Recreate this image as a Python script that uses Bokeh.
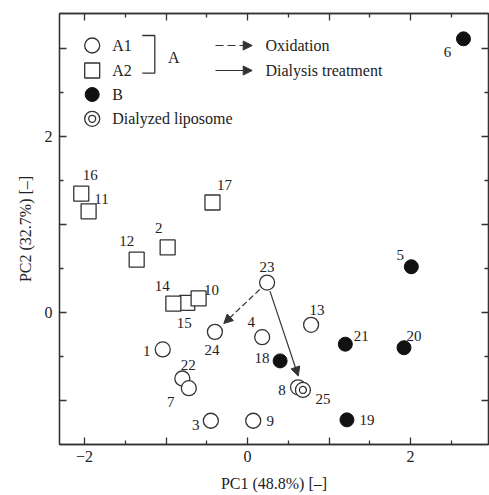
import math
from bokeh.plotting import figure
from bokeh.models import ColumnDataSource, LinearAxis, FixedTicker, Arrow, NormalHead, Label
from bokeh.core.properties import value
from bokeh.embed import file_html
from bokeh.resources import INLINE

# ---------------- data ----------------
a1_ids = ["1", "3", "4", "22", "7", "8", "9", "13", "23", "24"]
a1_x = [-1.04, -0.45, 0.18, -0.80, -0.72, 0.62, 0.07, 0.78, 0.24, -0.40]
a1_y = [-0.42, -1.23, -0.28, -0.75, -0.86, -0.85, -1.23, -0.14, 0.34, -0.22]

a2_ids = ["15", "2", "10", "11", "12", "14", "16", "17"]
a2_x = [-0.74, -0.98, -0.60, -1.95, -1.36, -0.91, -2.04, -0.43]
a2_y = [0.11, 0.74, 0.16, 1.15, 0.60, 0.10, 1.35, 1.25]

b_ids = ["5", "6", "18", "19", "20", "21"]
b_x = [2.01, 2.65, 0.40, 1.22, 1.92, 1.20]
b_y = [0.52, 3.11, -0.55, -1.22, -0.40, -0.36]

d_ids = ["25"]
d_x = [0.68]
d_y = [-0.88]

x_tick_labels = {-2: "\u22122", -1: "", 0: "0", 1: "", 2: "2"}
y_tick_labels = {-1: "", 0: "0", 1: "", 2: "2", 3: ""}

x_title = "PC1 (48.8%) [\u2013]"
y_title = "PC2 (32.7%) [\u2013]"

# label offsets in screen pixels (dx right, dy down)
label_offsets = {
    "16": (9, -19), "11": (13, -12), "17": (12, -18), "2": (-9, -19),
    "12": (-10, -19), "14": (-11, -18), "15": (-3, 20), "10": (13, -8),
    "23": (0, -16), "24": (-3, 18), "4": (-11, -15), "13": (6, -15),
    "1": (-16, 2), "22": (6, -14), "7": (-18, 14), "3": (-15, 4),
    "9": (17, 0), "8": (-16, 3), "25": (20, 9), "18": (-18, -3),
    "21": (16, -8), "20": (10, -12), "19": (20, 0), "5": (-11, -12),
    "6": (-16, 13),
}

# ---------------- figure ----------------
X0, X1 = -2.307, 2.957
Y0, Y1 = -1.5, 3.398
FL, FR, FT, FB = 59, 488, 13, 444

def px2x(px):
    return X0 + (px - FL) / (FR - FL) * (X1 - X0)

def px2y(py):
    return Y1 - (py - FT) / (FB - FT) * (Y1 - Y0)

FONT = "Liberation Serif"
TXT = "#222222"
LINE = "#333333"

p = figure(width=489, height=495, x_range=(X0, X1), y_range=(Y0, Y1),
           output_backend="svg", toolbar_location=None,
           min_border_left=FL, min_border_right=489 - FR,
           min_border_top=FT, min_border_bottom=495 - FB)
p.grid.visible = False
p.outline_line_color = LINE
p.outline_line_width = 1.3

xt = FixedTicker(ticks=[-2, -1, 0, 1, 2], minor_ticks=[-1.5, -0.5, 0.5, 1.5, 2.5])
yt = FixedTicker(ticks=[-1, 0, 1, 2, 3], minor_ticks=[-0.5, 0.5, 1.5, 2.5])

def style(ax):
    ax.axis_line_color = LINE
    ax.axis_line_width = 1.3
    ax.major_tick_line_color = LINE
    ax.minor_tick_line_color = LINE
    ax.major_tick_line_width = 1.3
    ax.minor_tick_line_width = 1.3
    ax.major_tick_in = 7
    ax.major_tick_out = 0
    ax.minor_tick_in = 4
    ax.minor_tick_out = 0
    ax.major_label_text_font = FONT
    ax.major_label_text_font_size = "16px"
    ax.major_label_text_color = TXT
    ax.axis_label_text_font = FONT
    ax.axis_label_text_font_size = "16px"
    ax.axis_label_text_font_style = "normal"
    ax.axis_label_text_color = TXT

xa = p.xaxis[0]
xa.ticker = xt
style(xa)
xa.major_label_overrides = x_tick_labels
xa.major_label_standoff = 6
xa.axis_label = x_title
xa.axis_label_standoff = 10

ya = p.yaxis[0]
ya.ticker = yt
style(ya)
ya.major_label_overrides = y_tick_labels
ya.major_label_standoff = 7
ya.major_label_orientation = "horizontal"
ya.axis_label = y_title
ya.axis_label_standoff = 8

for loc, tk in (("above", xt), ("right", yt)):
    ax = LinearAxis(ticker=tk)
    style(ax)
    ax.major_label_text_font_size = "0px"
    ax.major_label_standoff = 0
    ax.major_label_overrides = {t: "" for t in tk.ticks}
    p.add_layout(ax, loc)

# ---------------- arrows between points ----------------
def pt(ids, xs, ys, k):
    i = ids.index(k)
    return xs[i], ys[i]

sx, sy = pt(a1_ids, a1_x, a1_y, "23")
ex1, ey1 = pt(a1_ids, a1_x, a1_y, "24")
ex2, ey2 = pt(d_ids, d_x, d_y, "25")

def seg(f0, f1, ex, ey):
    return (sx + (ex - sx) * f0, sy + (ey - sy) * f0,
            sx + (ex - sx) * f1, sy + (ey - sy) * f1)

x0a, y0a, x1a, y1a = seg(0.14, 0.83, ex1, ey1)
p.add_layout(Arrow(x_start=x0a, y_start=y0a, x_end=x1a, y_end=y1a,
                   line_color=LINE, line_width=1.2, line_dash="6 3",
                   end=NormalHead(size=9, fill_color=LINE, line_color=LINE, line_width=1)))
x0b, y0b, x1b, y1b = seg(0.08, 0.87, ex2, ey2)
p.add_layout(Arrow(x_start=x0b, y_start=y0b, x_end=x1b, y_end=y1b,
                   line_color=LINE, line_width=1.2,
                   end=NormalHead(size=9, fill_color=LINE, line_color=LINE, line_width=1)))

# ---------------- markers ----------------
p.scatter(a2_x, a2_y, marker="square", size=15, fill_color="white",
          line_color=LINE, line_width=1.3)
p.scatter(a1_x, a1_y, marker="circle", size=15, fill_color="white",
          line_color=LINE, line_width=1.3)
p.scatter(b_x, b_y, marker="circle", size=14, fill_color="#111111",
          line_color="#111111", line_width=1)
p.scatter(d_x, d_y, marker="circle", size=15, fill_color="white",
          line_color=LINE, line_width=1.3)
p.scatter(d_x, d_y, marker="circle", size=7, fill_color="white",
          line_color=LINE, line_width=1.3)

# ---------------- point labels ----------------
all_ids = a1_ids + a2_ids + b_ids + d_ids
all_x = a1_x + a2_x + b_x + d_x
all_y = a1_y + a2_y + b_y + d_y
src = ColumnDataSource(dict(
    x=all_x, y=all_y, t=all_ids,
    dx=[label_offsets[k][0] for k in all_ids],
    dy=[label_offsets[k][1] for k in all_ids],
))
p.text(x="x", y="y", text="t", x_offset="dx", y_offset="dy", source=src,
       text_font=value(FONT), text_font_size="15px", text_color=TXT,
       text_align="center", text_baseline="middle")

# ---------------- legend (drawn in pixel layout) ----------------
lx = 91.7
rows = [45, 70, 94, 118.3]
p.scatter([px2x(lx)], [px2y(rows[0])], marker="circle", size=15,
          fill_color="white", line_color=LINE, line_width=1.3)
p.scatter([px2x(lx)], [px2y(rows[1])], marker="square", size=15,
          fill_color="white", line_color=LINE, line_width=1.3)
p.scatter([px2x(lx)], [px2y(rows[2])], marker="circle", size=14,
          fill_color="#111111", line_color="#111111")
p.scatter([px2x(lx)], [px2y(rows[3])], marker="circle", size=15,
          fill_color="white", line_color=LINE, line_width=1.3)
p.scatter([px2x(lx)], [px2y(rows[3])], marker="circle", size=7,
          fill_color="white", line_color=LINE, line_width=1.3)

for txt, r in zip(["A1", "A2", "B", "Dialyzed liposome"], rows):
    p.add_layout(Label(x=px2x(111.7), y=px2y(r), text=txt, text_font=FONT,
                       text_font_size="16px", text_color=TXT,
                       text_align="left", text_baseline="middle"))

# bracket
p.line([px2x(141.7), px2x(154.3), px2x(154.3), px2x(141.7)],
       [px2y(35), px2y(35), px2y(72.7), px2y(72.7)],
       line_color=LINE, line_width=1.3)
p.add_layout(Label(x=px2x(173.3), y=px2y(56.7), text="A", text_font=FONT,
                   text_font_size="16px", text_color=TXT,
                   text_align="center", text_baseline="middle"))

# legend arrows
p.add_layout(Arrow(x_start=px2x(215), y_start=px2y(45), x_end=px2x(251.7), y_end=px2y(45),
                   line_color=LINE, line_width=1.2, line_dash="8 4",
                   end=NormalHead(size=9, fill_color=LINE, line_color=LINE, line_width=1)))
p.add_layout(Arrow(x_start=px2x(215), y_start=px2y(70), x_end=px2x(251.7), y_end=px2y(70),
                   line_color=LINE, line_width=1.2,
                   end=NormalHead(size=9, fill_color=LINE, line_color=LINE, line_width=1)))
for txt, r in zip(["Oxidation", "Dialysis treatment"], [45, 70]):
    p.add_layout(Label(x=px2x(265), y=px2y(r), text=txt, text_font=FONT,
                       text_font_size="16px", text_color=TXT,
                       text_align="left", text_baseline="middle"))

open("out.html", "w").write(file_html(p, INLINE))
